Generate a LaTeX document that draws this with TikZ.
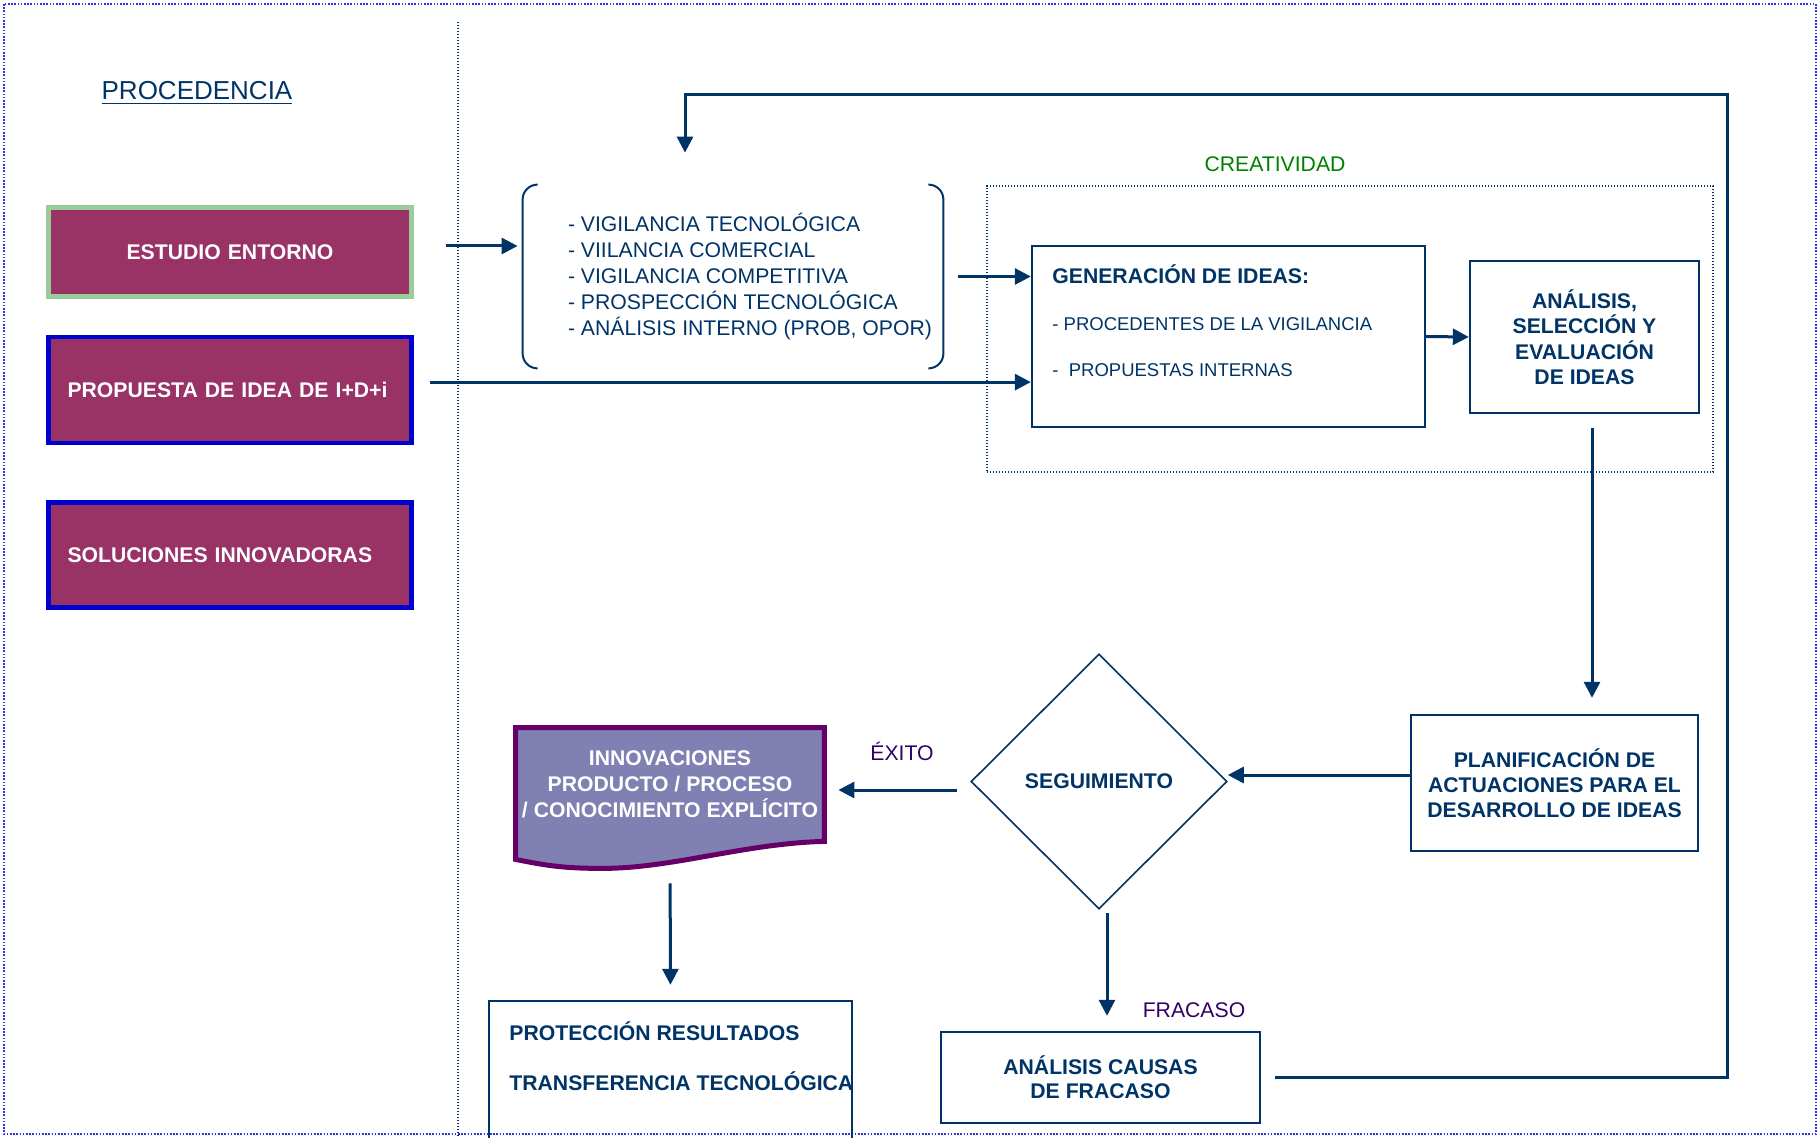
\documentclass[tikz,border=0pt]{standalone}
\usepackage{fontspec}
\setmainfont{Liberation Sans}
\usetikzlibrary{positioning, arrows.meta, shapes.geometric, backgrounds}

\definecolor{navy}{RGB}{0,51,102}
\definecolor{srcfill}{RGB}{153,51,102}
\definecolor{eegreen}{RGB}{153,204,153}
\definecolor{piblue}{RGB}{0,0,204}
\definecolor{framecol}{RGB}{51,51,230}
\definecolor{crgreen}{RGB}{0,128,0}
\definecolor{indigo}{RGB}{51,0,102}
\definecolor{docfill}{RGB}{128,128,178}
\definecolor{docline}{RGB}{102,0,102}

\newcommand\fnt{\fontsize{10.6pt}{13pt}\selectfont}
\newcommand\fsm{\fontsize{9.25pt}{11pt}\selectfont}
\newcommand\fbig{\fontsize{13pt}{15pt}\selectfont}

\begin{document}
\begin{tikzpicture}[x=0.5pt, y=-0.5pt,
    src/.style={fill=srcfill, text=white, font=\bfseries\fnt, text width=162.5pt, inner xsep=9.5pt, inner ysep=0pt},
    box/.style={draw=navy, line width=1.2pt, text=navy, font=\bfseries\fnt, align=center, inner sep=0pt},
    arr/.style={navy, line width=1.5pt, -{Triangle[length=8pt, width=8pt]}},
    lbl/.style={font=\fnt, inner sep=0pt},
    dots/.style={line width=0.6pt, dash pattern=on 0.6pt off 0.9pt}
  ]

  \useasboundingbox (0,0) rectangle (1820,1138);
  \clip (0,0) rectangle (1820,1138);

  \draw[framecol, line width=0.8pt, dash pattern=on 0.8pt off 0.8pt] (4,4) rectangle (1816,1134);
  \draw[navy, dots] (458,22) -- (458,1138);

  \node[lbl, font=\fbig, text=navy, anchor=base] (PROC) at (197,100) {\underline{PROCEDENCIA}};

  % procedencia
  \node[src, draw=eegreen, line width=2.5pt, align=center, minimum height=44.5pt] (EE) at (230,252) {ESTUDIO ENTORNO};
  \node[src, draw=piblue, line width=2.1pt, align=left, minimum height=53pt, below=18pt of EE] (PI) {PROPUESTA DE IDEA DE I+D+i};
  \node[src, draw=piblue, line width=2.1pt, align=left, minimum height=52.5pt, below=27.6pt of PI] (SI) {SOLUCIONES INNOVADORAS};

  % vigilancia
  \node[minimum width=210pt, minimum height=91.5pt, inner sep=0pt] (VIG) at (733,276.5) {};
  \draw[navy, line width=1pt, rounded corners=7.5pt] ([xshift=7.5pt]VIG.north west) -| (VIG.south west) -- ([xshift=7.5pt]VIG.south west);
  \draw[navy, line width=1pt, rounded corners=7.5pt] ([xshift=-7.5pt]VIG.north east) -| (VIG.south east) -- ([xshift=-7.5pt]VIG.south east);
  \node[lbl, text=navy, align=left, anchor=west] (VIGt) at ([xshift=22.5pt]VIG.west) {- VIGILANCIA TECNOLÓGICA\\- VIILANCIA COMERCIAL\\- VIGILANCIA COMPETITIVA\\- PROSPECCIÓN TECNOLÓGICA\\- ANÁLISIS INTERNO (PROB, OPOR)};

  % creatividad
  \node[draw=navy, dots, minimum width=363pt, minimum height=143pt] (CRE) at (1350,329) {};
  \node[lbl, text=crgreen, anchor=base] (CREt) at (1275,171.5) {CREATIVIDAD};

  \node[box, minimum width=196.5pt, minimum height=90.5pt] (GEN) at (1228.5,336.5) {};
  \node[lbl, font=\bfseries\fnt, text=navy, anchor=base west] (GENt) at (1052,283.5) {GENERACIÓN DE IDEAS:};
  \node[lbl, font=\fsm, text=navy, anchor=base west] (GENa) at (1052,330.6) {- PROCEDENTES DE LA VIGILANCIA};
  \node[lbl, font=\fsm, text=navy, anchor=base west] (GENb) at (1052,376.6) {-~ PROPUESTAS INTERNAS};

  \node[box, minimum width=114.5pt, minimum height=76pt, font=\bfseries\fontsize{10.6pt}{12.75pt}\selectfont] (ASE) at (1584.5,337) {ANÁLISIS,\\SELECCIÓN Y\\EVALUACIÓN\\DE IDEAS};

  % desarrollo
  \node[box, minimum width=143.5pt, minimum height=68pt, font=\bfseries\fontsize{10.6pt}{12.5pt}\selectfont] (PLA) at (1554.5,783) {PLANIFICACIÓN DE\\ACTUACIONES PARA EL\\DESARROLLO DE IDEAS};

  \node[diamond, draw=navy, line width=0.8pt, minimum width=128pt, minimum height=127.5pt, inner sep=0pt, text=navy, font=\bfseries\fnt] (SEG) at (1099,781.5) {SEGUIMIENTO};

  \node[text=white, font=\bfseries\fnt, align=center, inner sep=0pt, minimum width=154pt, minimum height=56.5pt] (INN) at (670,784.5) {INNOVACIONES\\PRODUCTO / PROCESO\\/ CONOCIMIENTO EXPLÍCITO};
  \begin{scope}[on background layer]
    \draw[docline, line width=2.5pt, fill=docfill] (INN.north west) -- (INN.north east) -- (INN.south east)
      .. controls +(-40pt,-1pt) and +(35pt,0pt) .. ([shift={(-111pt,-13.5pt)}]INN.south east)
      .. controls +(-20pt,0pt) and +(15pt,-3pt) .. ([yshift=-9pt]INN.south west) -- cycle;
  \end{scope}
  \node[lbl, text=indigo, anchor=base] (EXI) at (902,760.5) {ÉXITO};

  \node[draw=navy, line width=1.2pt, minimum width=181.5pt, minimum height=85pt, inner sep=0pt] (PRO) at (670.5,1086) {};
  \node[lbl, font=\bfseries\fnt, text=navy, anchor=base west] (PROa) at (509,1040.5) {PROTECCIÓN RESULTADOS};
  \node[lbl, font=\bfseries\fnt, text=navy, anchor=base west] (PROb) at (509,1090.5) {TRANSFERENCIA TECNOLÓGICA};

  \node[box, minimum width=159.5pt, minimum height=45.5pt, font=\bfseries\fontsize{10.6pt}{12pt}\selectfont] (ACF) at (1100.5,1077.5) {ANÁLISIS CAUSAS\\DE FRACASO};
  \node[lbl, text=indigo, anchor=base] (FRA) at (1194,1017.5) {FRACASO};

  % connectors
  \coordinate (ee1) at ([yshift=3pt]EE.east);
  \coordinate (pi1) at ([yshift=4pt]PI.east);
  \coordinate (ase1) at ([xshift=3.75pt]ASE.south);
  \coordinate (pla1) at ([yshift=4pt]PLA.west);
  \coordinate (seg1) at ([yshift=-4.25pt]SEG.west);
  \coordinate (seg2) at ([xshift=4pt]SEG.south);
  \coordinate (TR) at (1727,95);

  \draw[arr, shorten <=15.75pt, shorten >=2.5pt] (ee1) -- (ee1 -| VIG.west);
  \draw[arr, shorten <=7.5pt] (VIG.east) -- (VIG.east -| GEN.west);
  \draw[arr, shorten <=8.25pt] (pi1) -- (pi1 -| GEN.west);
  \draw[arr] (GEN.east) -- (ASE.west);
  \draw[arr, shorten <=7pt, shorten >=8pt] (ase1) -- (ase1 |- PLA.north);
  \draw[arr] (pla1) -- (pla1 -| SEG.east);
  \draw[arr, shorten <=6.5pt, shorten >=7pt] (seg1) -- (seg1 -| INN.east);
  \draw[arr, shorten <=21pt, shorten >=7.5pt] (INN.south) -- (PRO.north);
  \draw[arr, shorten <=1.5pt, shorten >=7.5pt] (seg2) -- (seg2 |- ACF.north);
  \draw[arr, shorten <=7pt, shorten >=16pt] (ACF.east) -| (TR) -| ([xshift=-24pt]VIG.north);

\end{tikzpicture}
\end{document}
